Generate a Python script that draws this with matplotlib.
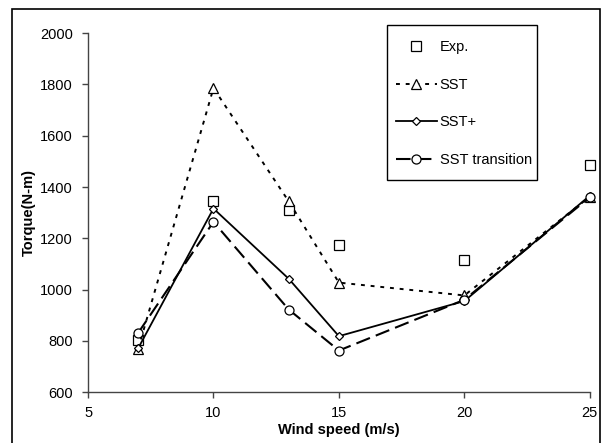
import matplotlib.pyplot as plt
from matplotlib.patches import Rectangle

plt.rcParams['font.family'] = ['Liberation Sans', 'DejaVu Sans']

# data
wind = [7, 10, 13, 15, 20, 25]
exp_torque = [805, 1345, 1312, 1175, 1116, 1486]
sst = [769, 1786, 1344, 1027, 977, 1362]
sst_plus = [771, 1316, 1042, 818, 955, 1366]
sst_trans = [831, 1264, 922, 762, 960, 1360]

fig = plt.figure(figsize=(6.03, 4.43), dpi=100)
ax = fig.add_axes([0.146, 0.115, 0.832, 0.81])

ax.plot(wind, exp_torque, linestyle='none', marker='s', markersize=6.5,
        markerfacecolor='white', markeredgecolor='black', markeredgewidth=0.9,
        label='Exp.', clip_on=False)
ax.plot(wind, sst, color='black', linestyle=(0, (2, 3)), linewidth=1.4,
        marker='^', markersize=7, markerfacecolor='white',
        markeredgecolor='black', markeredgewidth=0.9, label='SST', clip_on=False)
ax.plot(wind, sst_plus, color='black', linestyle='-', linewidth=1.3,
        marker='D', markersize=4.5, markerfacecolor='white',
        markeredgecolor='black', markeredgewidth=0.9, label='SST+', clip_on=False)
ax.plot(wind, sst_trans, color='black', linestyle=(0, (7, 3)), linewidth=1.5,
        marker='o', markersize=6.5, markerfacecolor='white',
        markeredgecolor='black', markeredgewidth=0.9, label='SST transition',
        clip_on=False)

ax.set_xlim(5, 25)
ax.set_ylim(600, 2000)
ax.set_xticks([5, 10, 15, 20, 25])
ax.set_yticks(range(600, 2001, 200))
ax.spines['top'].set_visible(False)
ax.spines['right'].set_visible(False)
for s in ['left', 'bottom']:
    ax.spines[s].set_color('#444444')
    ax.spines[s].set_linewidth(1.0)
ax.tick_params(direction='out', length=4, width=1.0, color='#444444',
               labelsize=10.5)
ax.tick_params(axis='y', pad=7)
ax.tick_params(axis='x', pad=6)

ax.set_xlabel('Wind speed (m/s)', fontsize=10.5, fontweight='bold', labelpad=2)
ax.set_ylabel('Torque(N-m)', fontsize=10.5, fontweight='bold', labelpad=3)

# legend without its own frame; the box is drawn separately below
leg = ax.legend(loc='upper left', bbox_to_anchor=(0.6135, 0.9805), fontsize=10.5,
                frameon=False, labelspacing=1.62,
                handlelength=2.8, handletextpad=0.2, borderpad=0,
                borderaxespad=0)

fig.patches.append(Rectangle((387 / 603, 1 - 180 / 443), 150 / 603, 155 / 443,
                             transform=fig.transFigure, fill=False,
                             edgecolor='black', linewidth=1.0))

# outer frame around the chart
fig.patches.append(Rectangle((12 / 603, -0.05), 588 / 603, 1 - 9 / 443 + 0.05,
                             transform=fig.transFigure, fill=False,
                             edgecolor='black', linewidth=1.2))

fig.savefig('out.png', dpi=100)
